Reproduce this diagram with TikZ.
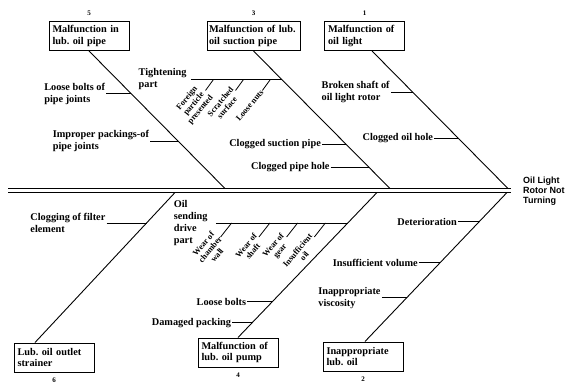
\documentclass[tikz,border=0pt]{standalone}
\usepackage{fontspec}
\setmainfont{Liberation Serif}
\setsansfont{Liberation Sans}
\usetikzlibrary{positioning,calc}

\tikzset{
  cause/.style={draw, line width=1pt, align=left, text width=73pt, minimum height=29pt, inner sep=3.5pt, font=\fontsize{10.3}{11.5}\selectfont\bfseries},
  sub/.style={align=left, inner sep=1pt, font=\fontsize{10.3}{12}\selectfont\bfseries},
  slant/.style={rotate=50, anchor=east, align=center, inner sep=0.5pt, font=\fontsize{8.3}{8.8}\selectfont\bfseries},
  bone/.style={line width=0.9pt},
  tick/.style={line width=0.8pt},
  num/.style={font=\fontsize{7}{8}\selectfont\bfseries, inner sep=1pt}
}

\begin{document}
\begin{tikzpicture}[x=1pt,y=-1pt]
  \useasboundingbox (0,0) rectangle (570,385);
  % Main spine and effect
  \coordinate (spL) at (8,190.5);
  \coordinate (spR) at (511,190.5);
  \draw[double, double distance=3pt, line width=0.8pt] (spL) -- (spR);
  \node[anchor=west, align=left, inner sep=0pt, font=\fontsize{9}{10}\selectfont\sffamily\bfseries] (head) at (523,191) {Oil Light\\Rotor Not\\Turning};

  % Cause boxes, top row
  \node[cause] (c5) at (89,36) {Malfunction in\\lub.\ oil pipe};
  \node[cause, text width=89pt, inner sep=2pt] (c3) at (253.5,36) {Malfunction of lub.\\oil suction pipe};
  \node[cause] (c1) at (364.5,36) {Malfunction of\\oil light};
  \node[num, above=4pt of c5] (n5) {5};
  \node[num, above=4pt of c3] (n3) {3};
  \node[num, above=4pt of c1] (n1) {1};
  % Cause boxes, bottom row
  \node[cause] (c6) at (54,357.5) {Lub.\ oil outlet\\strainer};
  \node[cause] (c4) at (238,352.5) {Malfunction of\\lub.\ oil pump};
  \node[cause] (c2) at (363,356.5) {Inappropriate\\lub.\ oil};
  \node[num, below=4pt of c6] (n6) {6};
  \node[num, below=4pt of c4] (n4) {4};
  \node[num, below=4pt of c2] (n2) {2};

  % Bones
  \coordinate (e5) at (225,188.5);
  \coordinate (e3) at (390,188.5);
  \coordinate (e1) at (508,188.5);
  \coordinate (e6) at (175,192.5);
  \coordinate (e4) at (377,192.5);
  \coordinate (e2) at (507,192.5);
  \coordinate (s1) at ([xshift=7.5pt]c1.south);
  \coordinate (s6) at ([xshift=-19pt]c6.north);
  \coordinate (s2) at ([xshift=2pt]c2.north);
  \draw[bone] (c5.south) -- (e5);
  \draw[bone] (c3.south) -- (e3);
  \draw[bone] (s1) -- (e1);
  \draw[bone] (s6) -- (e6);
  \draw[bone] (c4.north) -- (e4);
  \draw[bone] (s2) -- (e2);

  % Bone 5
  \coordinate (p51) at ($(c5.south)!0.31!(e5)$);
  \coordinate (p52) at ($(c5.south)!0.656!(e5)$);
  \node[sub, left=25pt of p51] (l51) {Loose bolts of\\pipe joints};
  \node[sub, left=28pt of p52] (l52) {Improper packings-of\\pipe joints};
  \draw[tick] (l51) -- (p51);
  \draw[tick] (l52) -- (p52);

  % Bone 3
  \coordinate (p31) at ($(c3.south)!0.207!(e3)$);
  \coordinate (p32) at ($(c3.south)!0.678!(e3)$);
  \coordinate (p33) at ($(c3.south)!0.844!(e3)$);
  \coordinate (tg) at ($(p31)+(-91,0)$);
  \node[sub, left=3pt of tg] (l31) {Tightening\\part};
  \draw[tick] (tg) -- (p31);
  \coordinate (k1) at ($(tg)!0.25!(p31)$);
  \coordinate (k2) at ($(tg)!0.58!(p31)$);
  \coordinate (k3) at ($(tg)!0.875!(p31)$);
  \node[slant] (fp) at ($(k1)+(-8,11)$) {Foreign\\particle\\presented};
  \node[slant] (ss) at ($(k2)+(-8,11)$) {Scratched\\surface};
  \node[slant] (ln) at ($(k3)+(-8,11)$) {Loose nuts};
  \draw[tick] (k1) -- (fp.east);
  \draw[tick] (k2) -- (ss.east);
  \draw[tick] (k3) -- (ln.east);
  \node[sub, left=24pt of p32] (l32) {Clogged suction pipe};
  \node[sub, left=38pt of p33] (l33) {Clogged pipe hole};
  \draw[tick] (l32) -- (p32);
  \draw[tick] (l33) -- (p33);

  % Bone 1
  \coordinate (p11) at ($(s1)!0.30!(e1)$);
  \coordinate (p12) at ($(s1)!0.634!(e1)$);
  \node[sub, left=22pt of p11] (l11) {Broken shaft of\\oil light rotor};
  \node[sub, left=24pt of p12] (l12) {Clogged oil hole};
  \draw[tick] (l11) -- (p11);
  \draw[tick] (l12) -- (p12);

  % Bone 6
  \coordinate (p61) at ($(s6)!0.797!(e6)$);
  \node[sub, left=40pt of p61] (l61) {Clogging of filter\\element};
  \draw[tick] (l61) -- (p61);

  % Bone 4
  \coordinate (p41) at ($(c4.north)!0.79!(e4)$);
  \coordinate (p42) at ($(c4.north)!0.247!(e4)$);
  \coordinate (p43) at ($(c4.north)!0.103!(e4)$);
  \coordinate (os) at ($(p41)+(-132,0)$);
  \node[sub, left=7pt of os] (l41) {Oil\\sending\\drive\\part};
  \draw[tick] (os) -- (p41);
  \coordinate (m1) at ($(os)!0.12!(p41)$);
  \coordinate (m2) at ($(os)!0.41!(p41)$);
  \coordinate (m3) at ($(os)!0.62!(p41)$);
  \coordinate (m4) at ($(os)!0.83!(p41)$);
  \node[slant] (wc) at ($(m1)+(-11,14)$) {Wear of\\chamber\\wall};
  \node[slant] (ws) at ($(m2)+(-11,14)$) {Wear of\\shaft};
  \node[slant] (wg) at ($(m3)+(-11,14)$) {Wear of\\gear};
  \node[slant] (io) at ($(m4)+(-11,14)$) {Insufficient\\oil};
  \draw[tick] (m1) -- (wc.east);
  \draw[tick] (m2) -- (ws.east);
  \draw[tick] (m3) -- (wg.east);
  \draw[tick] (m4) -- (io.east);
  \node[sub, left=25pt of p42] (l42) {Loose bolts};
  \node[sub, left=20pt of p43] (l43) {Damaged packing};
  \draw[tick] (l42) -- (p42);
  \draw[tick] (l43) -- (p43);

  % Bone 2
  \coordinate (p21) at ($(s2)!0.803!(e2)$);
  \coordinate (p22) at ($(s2)!0.528!(e2)$);
  \coordinate (p23) at ($(s2)!0.294!(e2)$);
  \node[sub, left=21pt of p21] (l21) {Deterioration};
  \node[sub, left=21pt of p22] (l22) {Insufficient volume};
  \node[sub, left=25pt of p23] (l23) {Inappropriate\\viscosity};
  \draw[tick] (l21) -- (p21);
  \draw[tick] (l22) -- (p22);
  \draw[tick] (l23) -- (p23);
\end{tikzpicture}
\end{document}
